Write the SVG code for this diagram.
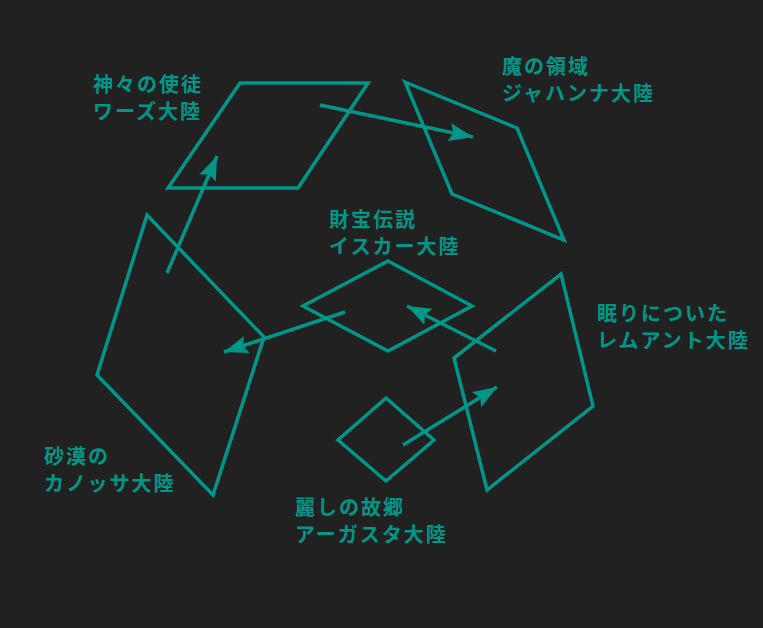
<svg xmlns="http://www.w3.org/2000/svg" width="763" height="628" viewBox="0 0 763 628">
<style>
.shape{fill:none;stroke:#009688;stroke-width:3.5;stroke-linejoin:miter}
.conn{fill:none;stroke:#009688;stroke-width:3.5}
.lbl{font-family:"Noto Sans CJK JP","Noto Sans CJK SC",sans-serif;font-size:20px;font-weight:bold;fill:#009688;letter-spacing:2px}
</style>
<defs>
<marker id="ah" markerUnits="userSpaceOnUse" markerWidth="26" markerHeight="20" refX="24" refY="9" orient="auto">
<path d="M0,0 L24,9 L0,18 L4,9 Z" fill="#009688"/>
</marker>
</defs>
<rect x="0" y="0" width="763" height="628" fill="#212121"/>
<g id="node-wards">
<polygon class="shape" points="240,83 368,83 298,188 168,188"/>
<text class="lbl" x="93" y="92">神々の使徒</text>
<text class="lbl" x="93" y="119">ワーズ大陸</text>
</g>
<g id="node-jahanna">
<polygon class="shape" points="405,82 517,128 564,240 452,194"/>
<text class="lbl" x="502" y="74">魔の領域</text>
<text class="lbl" x="502" y="101">ジャハンナ大陸</text>
</g>
<g id="node-iskar">
<polygon class="shape" points="388,261 472,306 388,351 303,306"/>
<text class="lbl" x="329" y="227">財宝伝説</text>
<text class="lbl" x="329" y="254">イスカー大陸</text>
</g>
<g id="node-kanossa">
<polygon class="shape" points="147,215 264,337 213,495 97,375"/>
<text class="lbl" x="44" y="464">砂漠の</text>
<text class="lbl" x="44" y="491">カノッサ大陸</text>
</g>
<g id="node-remant">
<polygon class="shape" points="561,274 593,406 487,490 454,358"/>
<text class="lbl" x="597" y="321">眠りについた</text>
<text class="lbl" x="597" y="348">レムアント大陸</text>
</g>
<g id="node-agasta">
<polygon class="shape" points="386,398 434,440 386,481 338,440"/>
<text class="lbl" x="295" y="515">麗しの故郷</text>
<text class="lbl" x="295" y="542">アーガスタ大陸</text>
</g>
<g id="connectors">
<line class="conn" x1="167" y1="273" x2="217" y2="156" marker-end="url(#ah)"/>
<line class="conn" x1="320" y1="105" x2="473" y2="137" marker-end="url(#ah)"/>
<line class="conn" x1="345" y1="312" x2="224" y2="352" marker-end="url(#ah)"/>
<line class="conn" x1="496" y1="351" x2="407" y2="306" marker-end="url(#ah)"/>
<line class="conn" x1="403" y1="445" x2="497" y2="387" marker-end="url(#ah)"/>
</g>
</svg>
